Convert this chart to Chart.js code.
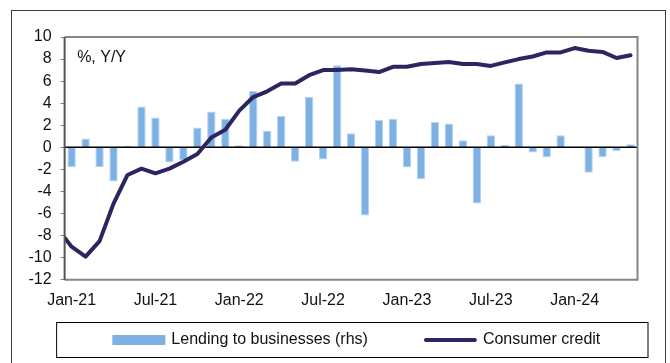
<!DOCTYPE html>
<html>
<head>
<meta charset="utf-8">
<script src="https://cdn.jsdelivr.net/npm/chart.js@4/dist/chart.umd.min.js"></script>
<style>
  html, body { margin: 0; padding: 0; background: #fff; }
  #wrap { width: 670px; height: 363px; }
</style>
</head>
<body>
<div id="wrap"><canvas id="c" width="670" height="363"></canvas></div>
<script>
// Months (Dec-20 only feeds the line's entry segment; the axis starts at Jan-21)
const months = [
  'Dec-20',
  'Jan-21','Feb-21','Mar-21','Apr-21','May-21','Jun-21','Jul-21','Aug-21','Sep-21','Oct-21','Nov-21','Dec-21',
  'Jan-22','Feb-22','Mar-22','Apr-22','May-22','Jun-22','Jul-22','Aug-22','Sep-22','Oct-22','Nov-22','Dec-22',
  'Jan-23','Feb-23','Mar-23','Apr-23','May-23','Jun-23','Jul-23','Aug-23','Sep-23','Oct-23','Nov-23','Dec-23',
  'Jan-24','Feb-24','Mar-24','Apr-24','May-24'
];

// Lending to businesses (rhs), %, Y/Y
const lendingToBusinesses = [
  null,
  -1.8, 0.8, -1.77, -3.1, 0.12, 3.7, 2.7, -1.38, -1.16, 1.8, 3.24, 2.6,
  0.2, 5.1, 1.5, 2.84, -1.31, 4.59, -1.1, 7.43, 1.28, -6.18, 2.48, 2.6,
  -1.83, -2.9, 2.29, 2.17, 0.64, -5.08, 1.1, 0.21, 5.78, -0.46, -0.89, 1.1,
  0.04, -2.29, -0.89, -0.34, 0.28
];

// Consumer credit, %, Y/Y
const consumerCredit = [
  -7.4,
  -9.0, -9.9, -8.5, -5.1, -2.5, -1.93, -2.35, -1.93, -1.3, -0.6, 0.9, 1.6,
  3.33, 4.56, 5.08, 5.78, 5.78, 6.54, 7.0, 7.0, 7.08, 6.97, 6.82, 7.3,
  7.3, 7.55, 7.65, 7.74, 7.55, 7.55, 7.38, 7.7, 8.0, 8.23, 8.6, 8.6,
  9.0, 8.75, 8.65, 8.1, 8.35
];

// Value axis range and step
const yMin = -12;
const yMax = 10;
const yStep = 2;

// Months that get a label on the time axis
const labelledMonths = ['Jan', 'Jul'];

const FONT = '"Liberation Sans", Arial, sans-serif';
const FONT_SIZE = 16;
const BAR_COLOR = '#7eb1e3';
const LINE_COLOR = '#2b2660';

const decorations = {
  id: 'decorations',
  beforeDraw(chart) {
    const { ctx } = chart;
    ctx.save();
    ctx.fillStyle = '#fff';
    ctx.fillRect(0, 0, chart.width, chart.height);
    // outer frame (runs past the bottom edge)
    ctx.strokeStyle = '#3c3c3c';
    ctx.lineWidth = 1;
    ctx.strokeRect(11.5, 10.5, chart.width - 16, chart.height + 20);
    ctx.restore();
  },
  afterDatasetDraw(chart, args) {
    // zero line sits above the bars but below the line series
    if (args.index !== 0) return;
    const { ctx, chartArea: a } = chart;
    const y0 = chart.scales.y.getPixelForValue(0);
    ctx.save();
    ctx.strokeStyle = '#000';
    ctx.lineWidth = 1.5;
    ctx.beginPath();
    ctx.moveTo(a.left, y0);
    ctx.lineTo(a.right, y0);
    ctx.stroke();
    ctx.restore();
  },
  afterDraw(chart) {
    const { ctx, chartArea: a } = chart;
    ctx.save();
    // plot frame
    ctx.lineWidth = 2;
    ctx.strokeStyle = '#858585';
    ctx.beginPath();
    ctx.moveTo(a.left, a.top);
    ctx.lineTo(a.right, a.top);
    ctx.lineTo(a.right, a.bottom);
    ctx.lineTo(a.left, a.bottom);
    ctx.stroke();
    ctx.strokeStyle = '#555';
    ctx.beginPath();
    ctx.moveTo(a.left, a.top);
    ctx.lineTo(a.left, a.bottom);
    ctx.stroke();

    // unit note
    ctx.fillStyle = '#111';
    ctx.font = FONT_SIZE + 'px ' + FONT;
    ctx.textBaseline = 'middle';
    ctx.textAlign = 'left';
    ctx.fillText('%, Y/Y', a.left + 12.5, a.top + 20.5);

    // legend box
    const boxL = a.left - 8, boxR = a.right + 10.5;
    const boxT = Math.round(a.bottom + 42) + 0.5, boxH = 35;
    ctx.strokeStyle = '#000';
    ctx.lineWidth = 1;
    ctx.strokeRect(boxL, boxT, boxR - boxL, boxH);

    const ds = chart.data.datasets;
    const swatchW = 53, gapSwatch = 6, gapItems = 56;
    const w0 = swatchW + gapSwatch + ctx.measureText(ds[0].label).width;
    const w1 = swatchW + gapSwatch + ctx.measureText(ds[1].label).width;
    let x = (boxL + boxR) / 2 - (w0 + gapItems + w1) / 2 + 4;
    const cy = boxT + boxH / 2;

    ctx.fillStyle = ds[0].backgroundColor;
    ctx.fillRect(x, cy - 5, swatchW, 10);
    ctx.fillStyle = '#111';
    ctx.fillText(ds[0].label, x + swatchW + gapSwatch, cy);
    x += w0 + gapItems;

    ctx.strokeStyle = ds[1].borderColor;
    ctx.lineWidth = 4;
    ctx.lineCap = 'round';
    ctx.beginPath();
    ctx.moveTo(x + 2, cy);
    ctx.lineTo(x + swatchW - 2, cy);
    ctx.stroke();
    ctx.fillStyle = '#111';
    ctx.fillText(ds[1].label, x + swatchW + gapSwatch, cy);
    ctx.restore();
  }
};

new Chart(document.getElementById('c'), {
  data: {
    labels: months,
    datasets: [
      {
        type: 'bar',
        label: 'Lending to businesses (rhs)',
        data: lendingToBusinesses,
        yAxisID: 'y2',
        backgroundColor: BAR_COLOR,
        borderColor: '#b3d2f1',
        borderWidth: 1,
        categoryPercentage: 1,
        barPercentage: 0.6,
        order: 1
      },
      {
        type: 'line',
        label: 'Consumer credit',
        data: consumerCredit,
        yAxisID: 'y',
        borderColor: LINE_COLOR,
        backgroundColor: LINE_COLOR,
        borderWidth: 4,
        borderJoinStyle: 'round',
        borderCapStyle: 'round',
        pointRadius: 0,
        tension: 0,
        clip: 0,
        order: 0
      }
    ]
  },
  options: {
    responsive: false,
    animation: false,
    events: [],
    layout: { padding: { left: 19.5, right: 32.5, top: 37, bottom: 42 } },
    plugins: { legend: { display: false }, tooltip: { enabled: false } },
    scales: {
      x: {
        type: 'category',
        min: 'Jan-21',
        offset: true,
        grid: { display: false, drawTicks: false },
        border: { display: false },
        ticks: {
          autoSkip: false,
          maxRotation: 0,
          padding: 11,
          color: '#111',
          font: { family: FONT, size: FONT_SIZE },
          callback(value) {
            const label = this.getLabelForValue(value);
            return labelledMonths.includes(label.slice(0, 3)) ? label : '';
          }
        }
      },
      y: {
        position: 'left',
        min: yMin,
        max: yMax,
        ticks: {
          stepSize: yStep,
          autoSkip: false,
          maxTicksLimit: 20,
          padding: 9,
          color: '#111',
          font: { family: FONT, size: FONT_SIZE }
        },
        grid: { drawOnChartArea: false, tickLength: 4, tickColor: '#808080' },
        border: { display: false }
      },
      y2: {
        position: 'right',
        display: false,
        min: yMin,
        max: yMax
      }
    }
  },
  plugins: [decorations]
});
</script>
</body>
</html>
